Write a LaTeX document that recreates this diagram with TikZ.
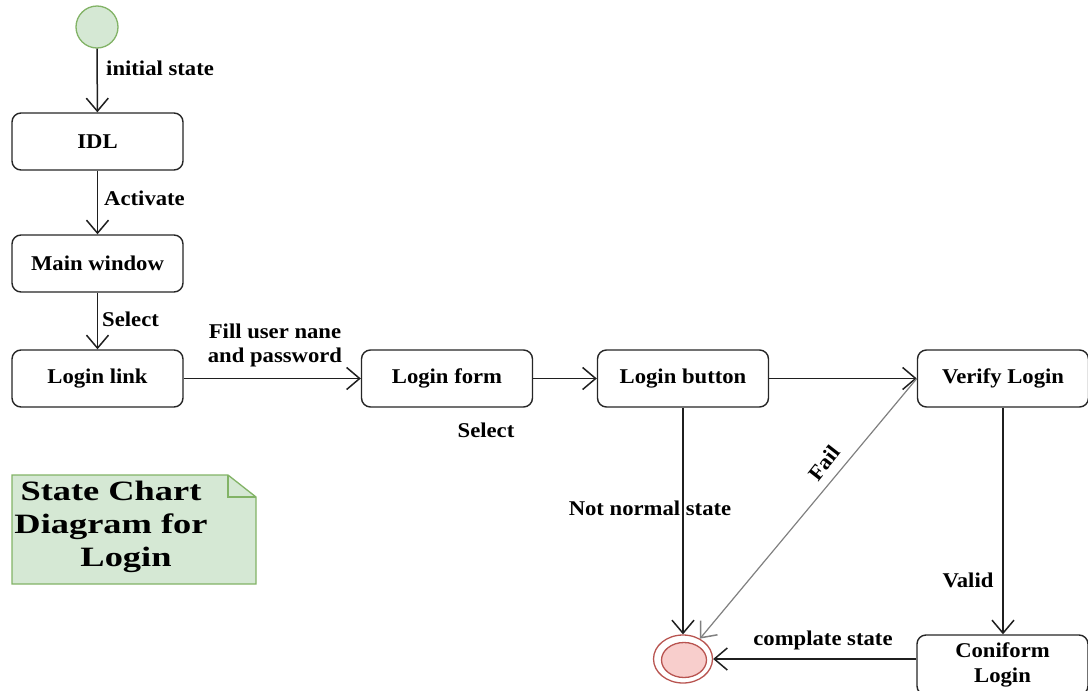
\documentclass[tikz,border=0pt]{standalone}
\usepackage{fontspec}
\setmainfont{Liberation Serif}[FakeStretch=1.08]
\newfontfamily\notefont{Liberation Serif}[FakeStretch=1.3]
\usetikzlibrary{arrows.meta,shapes.geometric}
\definecolor{gfill}{HTML}{D5E8D4}
\definecolor{gline}{HTML}{82B366}
\definecolor{rfill}{HTML}{F8CECC}
\definecolor{rline}{HTML}{B85450}
\begin{document}
\begin{tikzpicture}[x=1pt,y=-1pt,
  statebox/.style={draw=black!85, line width=1.4pt, rounded corners=9pt, minimum width=171pt, minimum height=57pt, inner sep=0pt, font=\fontsize{21}{25}\selectfont\bfseries, align=center, fill=white},
  tr/.style={draw=black!88, line width=1.5pt, -{Straight Barb[length=13pt,width=22pt,line width=1.5pt]}},
  lbl/.style={font=\fontsize{21}{24}\selectfont\bfseries, inner sep=0pt, align=center}
]
\useasboundingbox (0,0) rectangle (1088,691);

% states
\node[circle, draw=gline, fill=gfill, line width=1.3pt, minimum size=42pt, inner sep=0pt] (init) at (97,27) {};
\node[statebox] (idl) at (97.5,141.5) {IDL};
\node[statebox] (main) at (97.5,263.5) {Main window};
\node[statebox] (link) at (97.5,378.5) {Login link};
\node[statebox] (form) at (447,378.5) {Login form};
\node[statebox] (button) at (683,378.5) {Login button};
\node[statebox] (verify) at (1003,378.5) {Verify Login};
\node[statebox, minimum height=60pt] (conf) at (1002.5,665) {Coniform\\Login};
\node[ellipse, draw=rline, line width=1.3pt, minimum width=59pt, minimum height=48pt, inner sep=0pt] (fin) at (683,659) {};
\node[ellipse, draw=rline, fill=rfill, line width=1.3pt, minimum width=45pt, minimum height=35pt, inner sep=0pt] (finin) at (684,660) {};

% transitions
\draw[tr] (init) -- (idl);
\draw[tr] (idl) -- (main);
\draw[tr] (main) -- (link);
\draw[tr] (link) -- (form);
\draw[tr] (form) -- (button);
\draw[tr] (button) -- (verify);
\draw[tr] (button) -- (fin);
\draw[tr] (verify.south) -- (verify.south |- conf.north);
\draw[tr, draw=black!50, line width=1.2pt] (verify.west) -- (fin);
\draw[tr] (fin -| conf.west) -- (fin);

% labels
\node[lbl, anchor=west] (l1) at (106,68) {initial state};
\node[lbl, anchor=west] (l2) at (104,198) {Activate};
\node[lbl, anchor=west] (l3) at (102,319) {Select};
\node[lbl] (l4) at (275,345) {Fill user nane\\and password};
\node[lbl] (l5) at (486,430) {Select};
\node[lbl] (l6) at (650,508) {Not normal state};
\node[lbl, rotate=52] (l7) at (824,463) {Fail};
\node[lbl] (l8) at (968,580) {Valid};
\node[lbl] (l9) at (823,640) {complate state};

% note
\draw[draw=gline, fill=gfill, line width=1.3pt] (12,475) -- (228,475) -- (256,497) -- (256,584) -- (12,584) -- cycle;
\draw[draw=gline, line width=1.3pt] (228,475) -- (228,497) -- (256,497);
\node[font=\notefont\fontsize{28}{33}\selectfont\bfseries, align=center, inner sep=0pt] (notetxt) at (111,527) {State Chart\\Diagram for\\\hspace*{30pt}Login};
\end{tikzpicture}
\end{document}
